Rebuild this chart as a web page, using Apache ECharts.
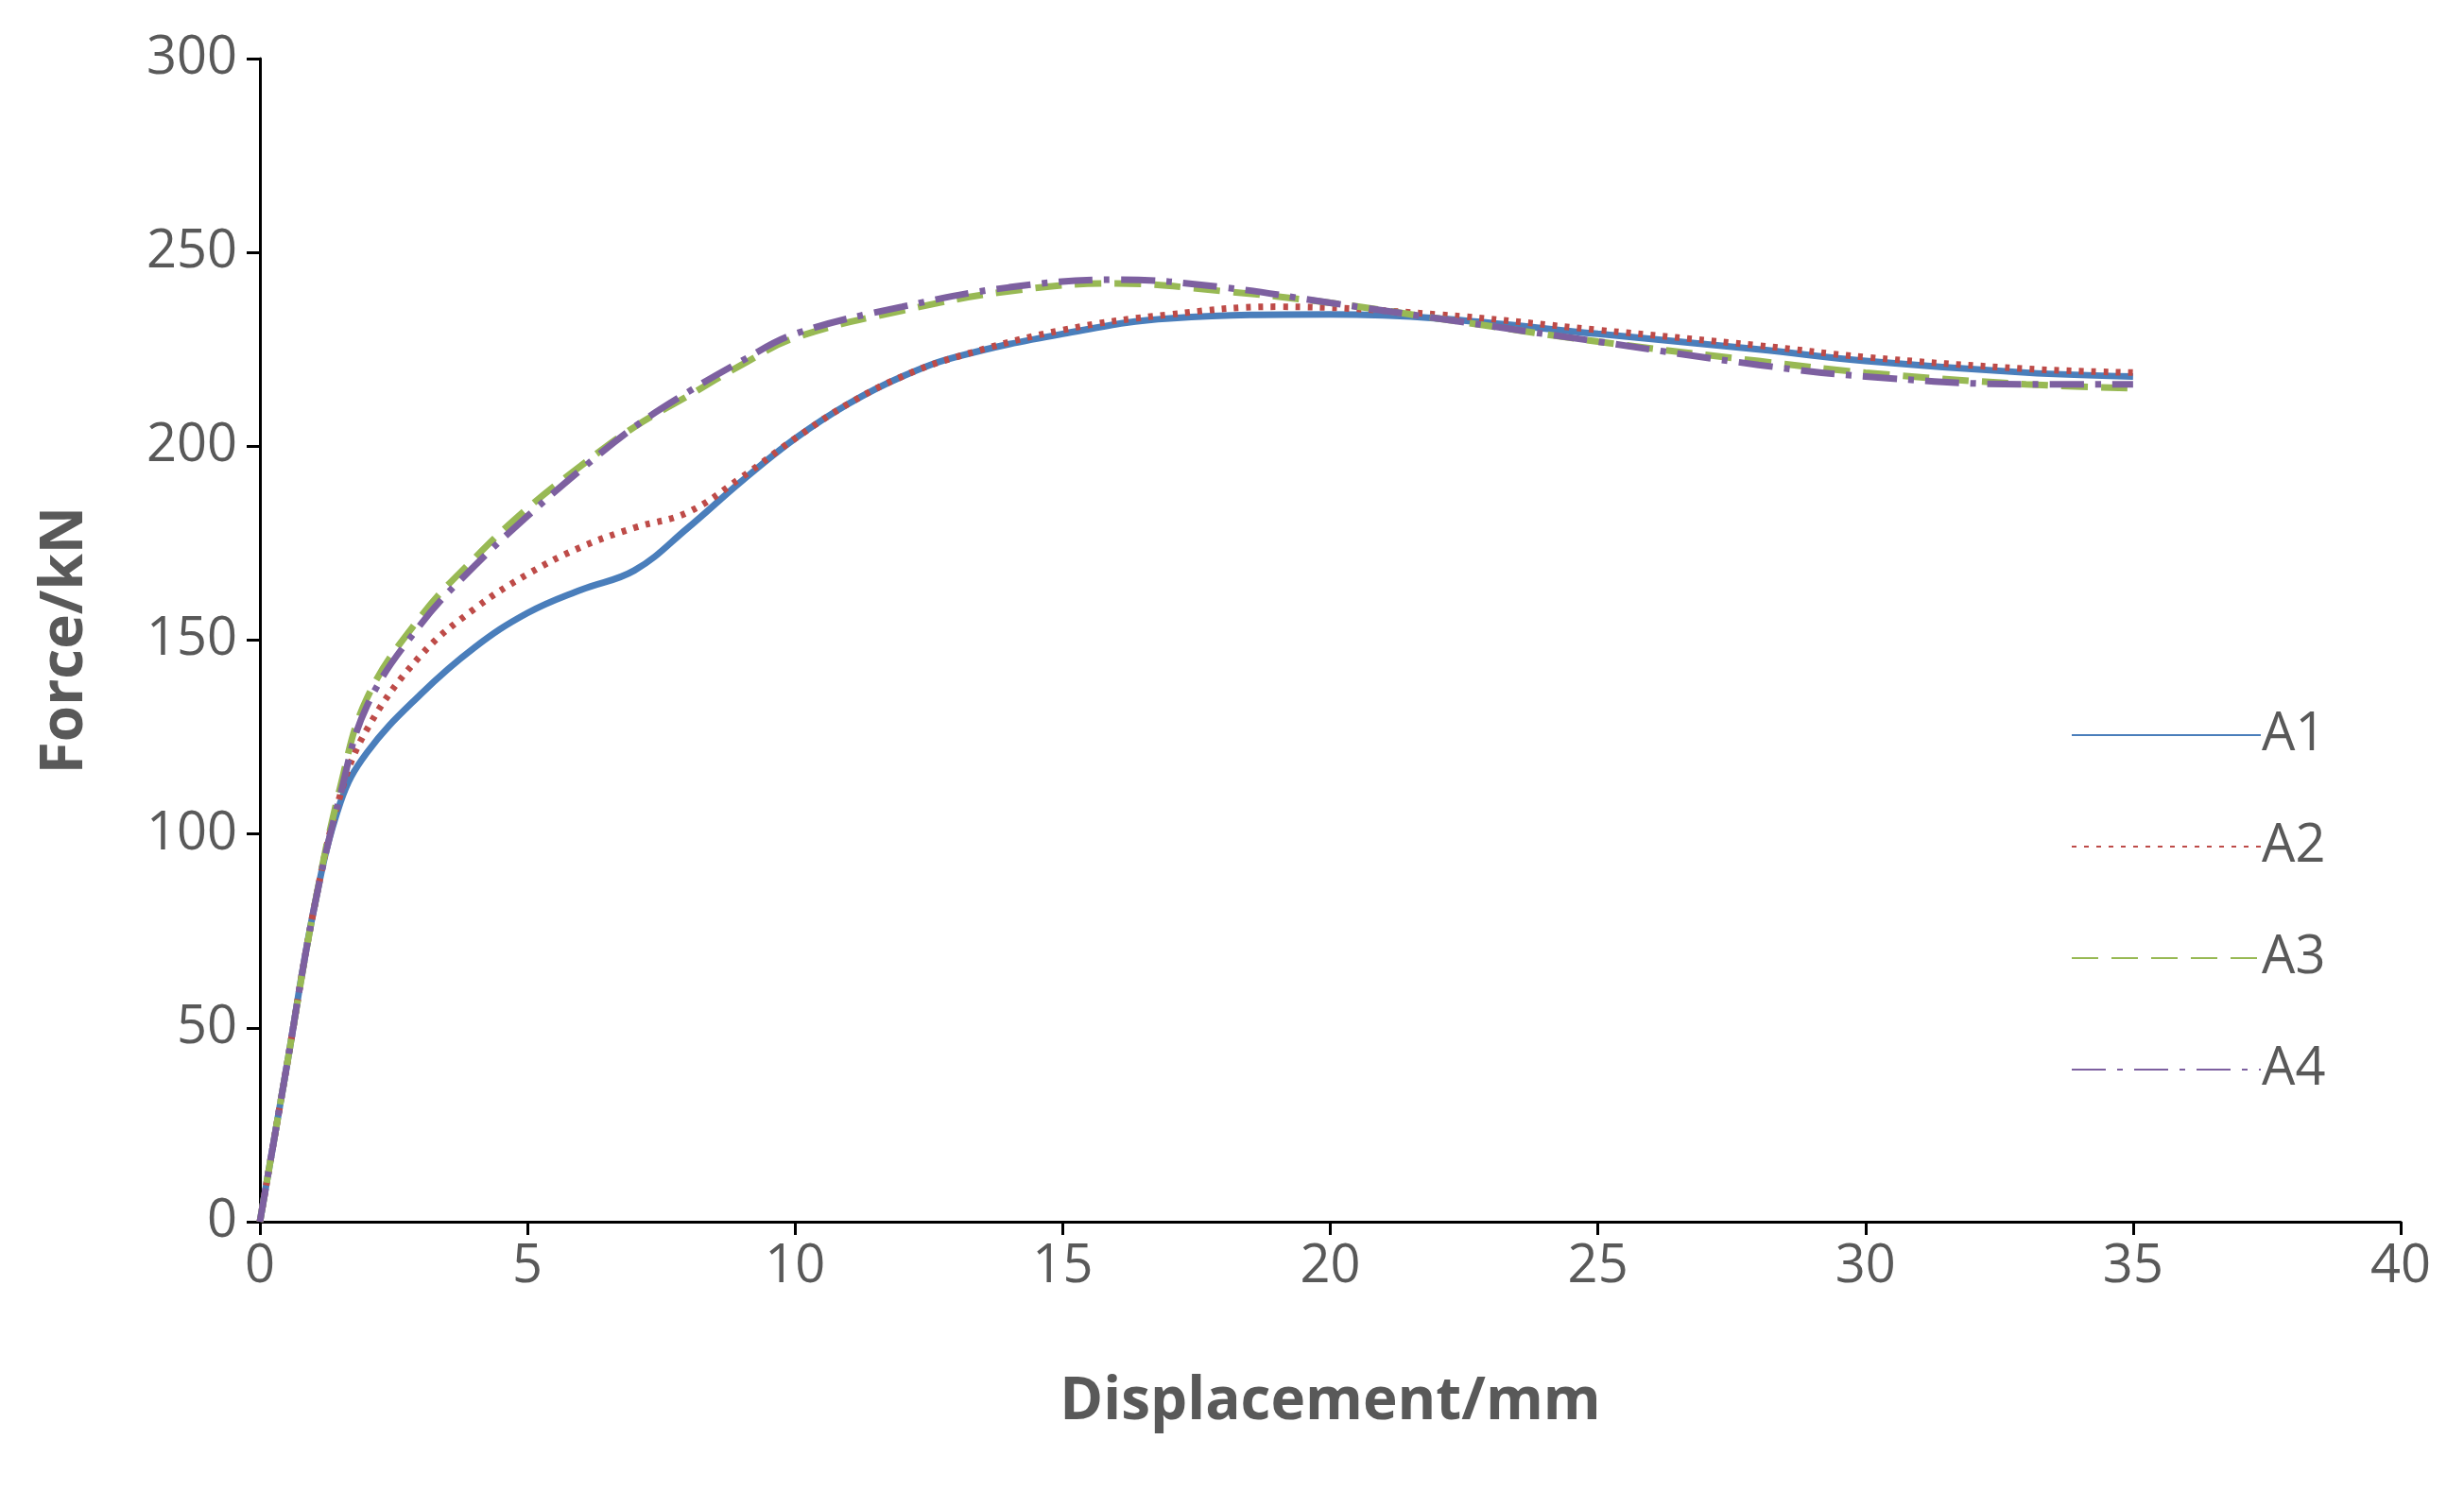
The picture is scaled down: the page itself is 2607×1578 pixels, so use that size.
<!DOCTYPE html>
<html><head><meta charset="utf-8">
<script src="https://cdn.jsdelivr.net/npm/echarts@6/dist/echarts.min.js"></script>
<style>html,body{margin:0;background:#fff}#c{width:2607px;height:1578px}</style>
</head><body><div id="c"></div>
<script>
const A1 = [[0,0],[0.5,40],[1,80],[1.5,108],[2,121],[3,136],[4,148],[5,157],[6,163],[7,168],[8,179],[9,191],[10,202],[11,211],[12,218],[13,223],[15,229],[17,233],[20,234],[22,233],[25,229],[28,225],[30,222],[33,219],[35,218]];
const A2 = [[0,0],[0.5,40],[1,80],[1.5,110],[2,127],[3,146],[4,158],[5,167],[6,174],[7,179],[8,183],[9,192],[10,202],[11,211],[12,218],[13,223],[15,230],[17,234],[19,236],[22,234],[25,230],[28,226],[30,223],[33,220],[35,219]];
const A3 = [[0,0],[0.5,40],[1,80],[1.5,112],[2,135],[3,156],[4,171],[5,184],[6,195],[7,205],[8,213],[9,221],[10,228],[12,235],[14,240],[16,242],[18,240],[20,237],[22,233],[25,227],[28,222],[30,219],[33,216],[35,215]];
const A4 = [[0,0],[0.5,40],[1,80],[1.5,110],[2,133],[3,154],[4,169],[5,182],[6,194],[7,205],[8,214],[9,222],[10,229],[12,236],[14,241],[16,243],[18,241],[20,237],[22,233],[25,227],[28,221],[30,218],[33,216],[35,216]];
const names = ['A1','A2','A3','A4'];
const colors = ['#4A7EBB','#BE4B48','#98B954','#7D60A0'];
const types = ['solid',[5,8],[28,14],[36,12,6,12]];
const data = [A1,A2,A3,A4];
const ch = echarts.init(document.getElementById('c'));
const axLine = {lineStyle:{color:'#000',width:3}};
const font = 'Open Sans';
ch.setOption({
  animation:false,
  grid:{left:275,right:67,top:62,bottom:285},
  legend:{orient:'vertical',left:2186,top:745,itemWidth:200,itemHeight:20,itemGap:62,
    itemStyle:{opacity:0},
    textStyle:{fontSize:56,color:'#595959',fontFamily:font,padding:[0,0,0,-4]},
    data:names},
  xAxis:{type:'value',min:0,max:40,interval:5,
    name:'Displacement/mm',nameLocation:'middle',nameGap:160,
    nameTextStyle:{fontSize:62,fontWeight:'bold',color:'#595959',fontFamily:font},
    axisLine:axLine,axisTick:{length:14,lineStyle:{color:'#000',width:3}},splitLine:{show:false},
    axisLabel:{fontSize:56,color:'#595959',margin:20,fontFamily:font}},
  yAxis:{type:'value',min:0,max:300,interval:50,
    name:'Force/kN',nameLocation:'middle',nameGap:175,
    nameTextStyle:{fontSize:62,fontWeight:'bold',color:'#595959',fontFamily:font},
    axisLine:{show:true,...axLine},axisTick:{show:true,length:14,lineStyle:{color:'#000',width:3}},splitLine:{show:false},
    axisLabel:{fontSize:56,color:'#595959',margin:24,fontFamily:font}},
  series:data.map((d,i)=>({name:names[i],type:'line',data:d,smooth:0.4,showSymbol:false,symbol:'none',
    color:colors[i],lineStyle:{color:colors[i],width:7,type:types[i]}}))
});
</script></body></html>
